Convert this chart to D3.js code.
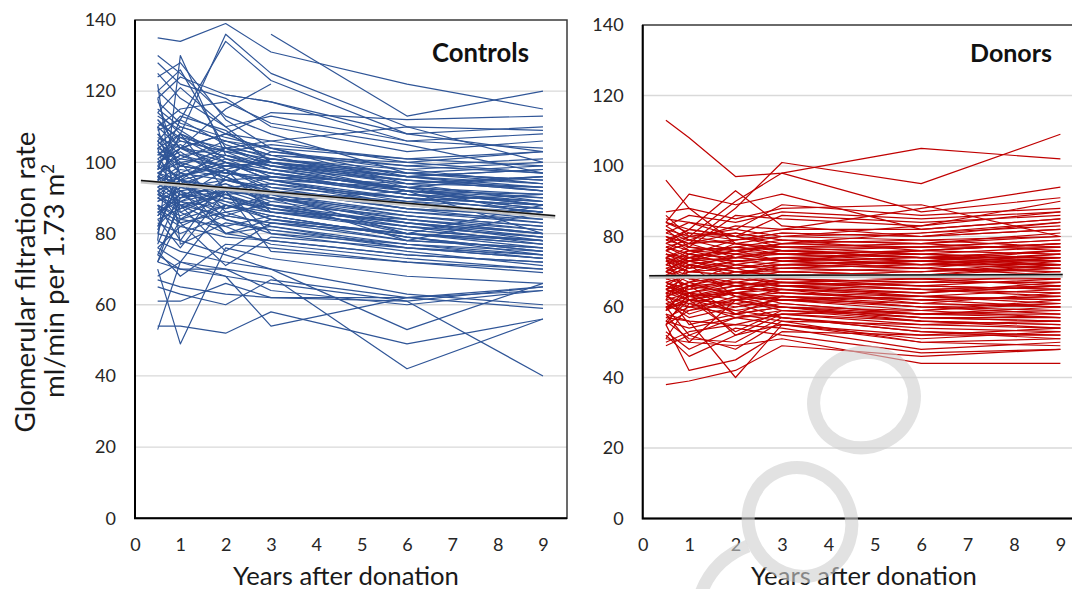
<!DOCTYPE html>
<html>
<head>
<meta charset="utf-8">
<script src="https://cdn.jsdelivr.net/npm/d3@7"></script>
<style>
  body { margin: 0; background: #fff; }
  svg { display: block; font-family: Lato, "Open Sans", sans-serif; }
</style>
</head>
<body>
<svg id="chart" width="1072" height="589"></svg>
<script>
// Measurement years (x positions of each visit)
const years = [0.5, 1, 2, 3, 6, 9];

// Individual eGFR trajectories, one row per subject: values at each year (null = no visit)
const controls = [
  [135,134,139,131,122,115],
  [null,null,null,136,113,120],
  [102,108,136,125,110,100],
  [98,112,134,123,108,103],
  [130,125,113,108,97,94],
  [128,122,118,110,103,106],
  [78,130,102,99,92,90],
  [125,118,110,100,92,88],
  [124,128,112,104,94,89],
  [120,126,104,102,93,85],
  [118,124,119,117,108,110],
  [100,104,115,122,null,null],
  [null,null,119,117,106,104],
  [114,121,110,113,106,108],
  [112,104,108,114,112,113],
  [110,115,117,111,105,97],
  [108,99,104,106,110,109],
  [106,113,109,100,96,98],
  [53,72,88,84,80,78],
  [54,54,52,58,49,56],
  [70,49,76,73,68,66],
  [65,63,60,67,62,64],
  [61,61,66,62,62,59],
  [74,70,68,54,62,65],
  [72,70,70,68,42,56],
  [78,75,72,70,53,66],
  [76,72,68,66,61,40],
  [67,65,63,62,61,65],
  [80,78,74,70,63,60],
  [68,72,70,64,60,64],
  [95,108,92,94,90,88],
  [88,78,96,90,86,84],
  [118,96,99,97,93,90],
  [92,88,85,89,84,80],
  [72,90,98,86,82,79],
  [110,104,100,98,95,92],
  [98,102,97,95,88,86],
  [90,86,92,88,80,78],
  [82,95,80,84,78,76],
  [104,108,101,99,94,96],
  [96,94,98,92,89,85],
  [104,84,88,85,79,74],
  [100,95,104,100,96,94],
  [93,97,90,88,85,82],
  [80,100,86,82,76,73],
  [106,100,96,103,98,100],
  [91,95,93,90,83,80],
  [99,93,95,96,91,87],
  [84,76,92,80,77,75],
  [112,106,103,101,97,95],
  [89,93,91,87,81,78],
  [97,100,102,98,92,91],
  [83,80,85,83,80,77],
  [105,110,106,102,100,103],
  [94,90,92,91,86,83],
  [76,82,79,78,74,72],
  [101,105,98,94,88,84],
  [92,96,100,95,93,96],
  [86,89,87,91,80,88],
  [108,102,99,97,91,89],
  [92,83,71,79,76,74],
  [96,92,94,90,84,80],
  [103,99,97,101,96,93],
  [88,85,90,86,82,77],
  [115,110,106,104,101,99],
  [90,94,88,85,79,75],
  [97,101,99,100,95,92],
  [81,96,84,80,75,71],
  [107,104,108,103,99,97],
  [93,89,95,92,87,85],
  [85,91,89,84,80,76],
  [100,103,95,93,90,86],
  [74,88,82,77,73,70],
  [111,107,104,100,94,93],
  [95,99,97,96,92,89],
  [87,83,86,88,83,79],
  [102,106,103,98,93,88],
  [91,87,93,89,92,80],
  [110,86,80,82,77,73],
  [99,96,100,95,89,87],
  [113,109,101,99,96,98],
  [84,87,91,86,81,78],
  [96,104,98,93,87,83],
  [89,92,87,90,78,86],
  [105,97,102,100,97,95],
  [77,92,80,78,74,72],
  [94,98,96,91,85,81],
  [101,95,92,96,94,96],
  [86,90,94,88,82,79],
  [109,112,105,101,98,94],
  [96,88,75,83,78,76],
  [97,93,99,97,93,91],
  [92,95,90,87,83,80],
  [104,101,106,102,99,101],
  [88,84,82,85,79,75],
  [120,114,108,106,100,97],
  [75,68,77,76,72,69],
  [98,102,104,99,95,93],
  [90,88,91,92,87,85],
  [82,89,84,81,77,74],
  [106,99,97,95,90,86],
  [95,91,93,94,90,88],
  [99,107,100,97,91,87],
  [87,91,85,83,80,77],
  [114,108,103,105,101,103],
  [93,96,101,96,91,89],
  [122,77,83,81,76,73],
  [103,97,95,92,89,91],
  [85,93,89,87,83,78],
  [117,111,107,104,96,92],
  [91,89,92,90,85,82],
  [97,95,98,101,97,99],
  [72,84,92,75,72,70],
  [100,104,102,98,92,88],
  [86,82,88,86,84,81]
];

const donors = [
  [113,108,97,98,105,102],
  [80,78,88,101,95,109],
  [76,80,90,98,87,91],
  [96,88,78,76,74,72],
  [84,92,89,92,82,85],
  [78,82,93,83,80,84],
  [87,88,85,88,89,80],
  [85,84,80,82,88,94],
  [86,80,82,89,86,88],
  [83,86,84,87,85,87],
  [82,77,86,85,83,90],
  [84,82,80,86,84,86],
  [38,39,42,49,46,48],
  [55,42,45,53,52,54],
  [52,46,52,55,50,51],
  [57,56,40,55,51,53],
  [51,50,49,51,44,44],
  [50,53,55,54,48,50],
  [49,52,48,56,50,49],
  [53,48,54,52,47,48],
  [56,51,50,57,53,52],
  [70,72,69,71,70,72],
  [65,63,66,64,62,63],
  [75,74,77,76,74,76],
  [60,62,59,61,58,57],
  [68,66,70,69,68,70],
  [78,76,75,78,77,79],
  [62,72,63,60,59,61],
  [72,70,73,74,72,71],
  [58,50,62,59,56,55],
  [80,78,79,81,80,82],
  [74,62,65,67,66,65],
  [74,71,72,70,71,74],
  [55,64,52,58,55,54],
  [69,73,71,72,73,75],
  [63,61,64,66,63,62],
  [77,79,76,75,76,78],
  [59,66,58,63,60,58],
  [71,69,68,70,69,68],
  [82,80,81,79,78,80],
  [64,66,67,65,64,66],
  [73,75,74,76,75,73],
  [64,55,58,60,57,56],
  [67,64,66,68,67,69],
  [76,73,78,77,78,81],
  [61,63,60,62,61,60],
  [70,67,72,71,70,71],
  [79,81,80,78,81,84],
  [60,52,57,55,52,52],
  [66,70,69,67,65,64],
  [74,77,75,73,74,76],
  [60,59,63,64,62,63],
  [72,74,71,72,71,70],
  [65,62,64,63,60,59],
  [81,84,82,80,79,77],
  [51,61,59,57,54,53],
  [69,71,73,74,72,74],
  [75,72,74,75,73,72],
  [62,64,62,60,58,58],
  [68,69,67,66,67,67],
  [77,75,79,80,81,83],
  [56,62,53,59,57,57],
  [71,73,70,69,68,66],
  [63,60,65,67,66,68],
  [79,77,76,77,75,74],
  [67,65,68,70,69,72],
  [73,70,71,73,76,78],
  [59,62,61,60,56,55],
  [84,81,79,81,80,82],
  [64,67,63,62,63,65],
  [70,74,76,73,71,69],
  [61,57,60,62,60,61],
  [76,78,74,76,77,77],
  [66,63,64,65,61,60],
  [72,76,73,72,73,73],
  [57,60,58,56,55,56],
  [68,70,71,68,66,65],
  [80,76,77,79,78,76],
  [63,65,67,66,64,67],
  [74,72,70,71,72,75],
  [60,61,57,58,59,62],
  [69,66,69,72,71,70],
  [78,80,78,76,74,73],
  [55,59,61,57,53,51],
  [71,68,70,70,69,71],
  [65,69,66,64,63,62],
  [75,73,76,78,79,80],
  [62,58,62,63,61,64],
  [73,71,75,75,74,74],
  [58,56,55,58,56,54],
  [67,69,68,67,68,68],
  [81,79,83,82,82,85],
  [64,62,61,63,62,60],
  [70,75,72,74,75,77],
  [59,63,64,61,58,59],
  [77,74,73,74,73,71],
  [66,64,67,69,70,73],
  [72,70,69,68,67,67],
  [61,60,62,65,64,66],
  [83,79,78,80,83,87],
  [68,72,70,71,73,76],
  [63,66,64,62,59,57],
  [74,76,77,75,76,75],
  [56,54,57,59,58,60],
  [70,68,66,67,65,63],
  [79,82,80,77,77,79],
  [65,67,69,66,65,66],
  [60,64,58,60,57,56],
  [73,73,74,73,72,72],
  [67,63,65,65,63,61],
  [76,78,81,79,76,78]
];

// Group mean trend lines (start/end points)
const controlsTrend = [[0.13, 94.6], [9.27, 84.7]];
const donorsTrend = [[0.14, 68.6], [9.05, 68.9]];

const yTicks = [0, 20, 40, 60, 80, 100, 120, 140];
const xTicks = [0, 1, 2, 3, 4, 5, 6, 7, 8, 9];
const panelTitles = ["Controls", "Donors"];
const xTitle = "Years after donation";
const yTitle1 = "Glomerular filtration rate";
const yTitle2 = "ml/min per 1.73 m";

const svg = d3.select("#chart");

// Size text so that its rendered width equals a target width
function fitWidth(sel, target) {
  const node = sel.node();
  const size = parseFloat(sel.attr("font-size"));
  const w = node.getComputedTextLength();
  sel.attr("font-size", (size * target / w).toFixed(2));
}

const panels = [
  { title: panelTitles[0], data: controls, trend: controlsTrend, color: "#2F5597",
    left: 135, right: 567, top: 20, bottom: 518.3, titleRight: 529, titleW: 97 },
  { title: panelTitles[1], data: donors, trend: donorsTrend, color: "#C00000",
    left: 642.7, right: 1085, top: 25, bottom: 518.5, titleRight: 1052, titleW: 82 }
];

panels.forEach(p => {
  const x = d3.scaleLinear().domain([0, 9.53]).range([p.left, p.right]);
  const y = d3.scaleLinear().domain([0, 140]).range([p.bottom, p.top]);
  const g = svg.append("g");

  // horizontal gridlines
  g.append("g").selectAll("line")
    .data(yTicks.filter(t => t > 0 && t < 140))
    .join("line")
    .attr("x1", x(0)).attr("x2", x(9.53))
    .attr("y1", d => y(d)).attr("y2", d => y(d))
    .attr("stroke", "#d9d9d9").attr("stroke-width", 1.3);

  // subject trajectories
  const line = d3.line().x(d => x(d[0])).y(d => y(d[1]));
  g.append("g").selectAll("path")
    .data(p.data.map(row => years.map((t, i) => [t, row[i]]).filter(d => d[1] != null)))
    .join("path")
    .attr("d", line)
    .attr("fill", "none")
    .attr("stroke", p.color)
    .attr("stroke-width", 1.2)
    .attr("stroke-linejoin", "round");

  // mean trend: grey band with black line
  g.append("path").attr("d", line(p.trend))
    .attr("stroke", "#c8c8c8").attr("stroke-width", 4).attr("fill", "none");
  g.append("path").attr("d", line(p.trend.map(d => [d[0], d[1] + 0.3])))
    .attr("stroke", "#111").attr("stroke-width", 1.5).attr("fill", "none");

  // plot frame
  g.append("rect")
    .attr("x", x(0)).attr("y", y(140))
    .attr("width", x(9.53) - x(0)).attr("height", y(0) - y(140))
    .attr("fill", "none").attr("stroke", "#3a3a3a").attr("stroke-width", 1.5);
  g.append("path")
    .attr("d", `M${x(0)},${y(140)}V${y(0)}H${x(9.53)}`)
    .attr("fill", "none").attr("stroke", "#000").attr("stroke-width", 2);

  // y tick labels
  const yAxis = d3.axisLeft(y).tickValues(yTicks).tickSize(0).tickPadding(19);
  const ya = g.append("g").attr("transform", `translate(${x(0)},0)`).call(yAxis);
  ya.select(".domain").remove();
  ya.selectAll("text").attr("font-size", 18).attr("fill", "#262626")
    .attr("font-family", "Lato, sans-serif");

  // x tick labels
  const xAxis = d3.axisBottom(x).tickValues(xTicks).tickSize(0).tickPadding(20);
  const xa = g.append("g").attr("transform", `translate(0,${y(0)})`).call(xAxis);
  xa.select(".domain").remove();
  xa.selectAll("text").attr("font-size", 18).attr("fill", "#262626")
    .attr("font-family", "Lato, sans-serif");

  // x axis title
  const xt = g.append("text")
    .attr("x", (p.left + p.right) / 2 - (p === panels[0] ? 5 : 0))
    .attr("y", 576).attr("dy", "0.35em")
    .attr("text-anchor", "middle").attr("font-size", 20).attr("fill", "#1a1a1a")
    .text(xTitle);
  fitWidth(xt, 226);

  // panel title
  const tt = g.append("text")
    .attr("x", p.titleRight).attr("y", 53).attr("dy", "0.35em")
    .attr("text-anchor", "end").attr("font-size", 20).attr("font-weight", "bold")
    .attr("fill", "#111").text(p.title);
  fitWidth(tt, p.titleW);
});

// y axis title (two lines, rotated)
const t1 = svg.append("text")
  .attr("transform", "translate(25,282) rotate(-90)")
  .attr("text-anchor", "middle").attr("dy", "0.35em")
  .attr("font-size", 20).attr("fill", "#1a1a1a").text(yTitle1);
fitWidth(t1, 301);
const t2 = svg.append("text")
  .attr("transform", "translate(54,281) rotate(-90)")
  .attr("text-anchor", "middle").attr("dy", "0.35em")
  .attr("font-size", t1.attr("font-size")).attr("fill", "#1a1a1a");
t2.append("tspan").text(yTitle2);
t2.append("tspan").text("2").attr("font-size", "0.6em").attr("dy", "-0.6em");

// faint watermark rings drawn over the right panel
const wm = svg.append("g").attr("fill", "none").attr("stroke", "#cfcfcf")
  .attr("stroke-opacity", 0.6).attr("stroke-width", 13);
wm.append("ellipse").attr("cx", 864).attr("cy", 400).attr("rx", 51).attr("ry", 47)
  .attr("transform", "rotate(-25 864 400)");
wm.append("ellipse").attr("cx", 800).attr("cy", 522).attr("rx", 51).attr("ry", 55)
  .attr("transform", "rotate(-25 800 522)");
wm.append("path").attr("d", "M700,596 Q712,560 748,546");
</script>
</body>
</html>
